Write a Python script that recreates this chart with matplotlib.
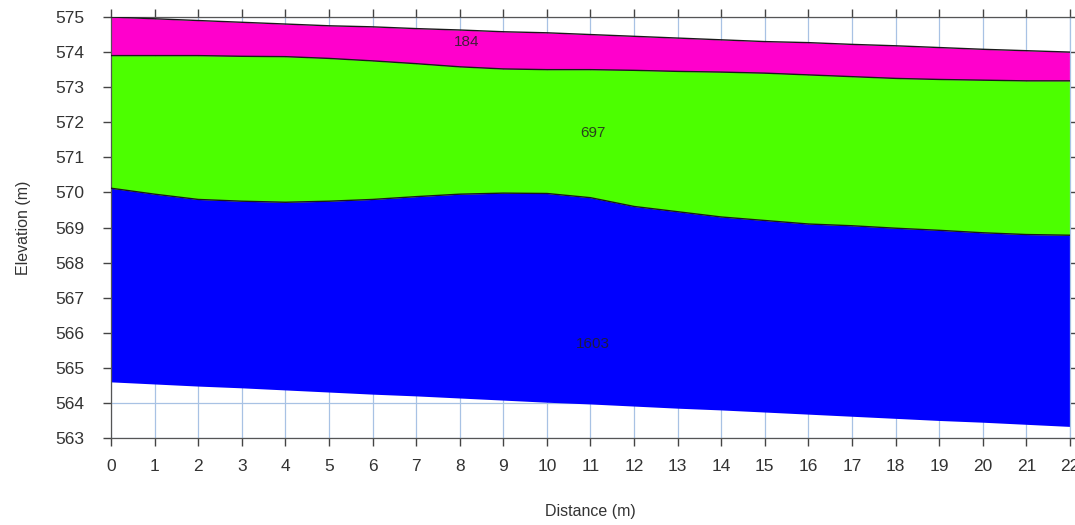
import matplotlib
matplotlib.use("Agg")
import matplotlib.pyplot as plt

plt.rcParams['font.family'] = ['Liberation Sans', 'DejaVu Sans']

# layer boundaries (distance in m, elevation in m)
dist = [0, 1, 2, 3, 4, 5, 6, 7, 8, 9, 10, 11, 12, 13, 14, 15, 16, 17, 18, 19, 20, 21, 22]
surface = [575.0, 574.95, 574.9, 574.85, 574.8, 574.75, 574.72, 574.67, 574.63, 574.58, 574.55,
           574.5, 574.45, 574.4, 574.35, 574.3, 574.27, 574.22, 574.18, 574.13, 574.08, 574.04, 574.0]
top_697 = [573.9, 573.9, 573.9, 573.88, 573.87, 573.82, 573.75, 573.67, 573.58, 573.52, 573.5,
           573.5, 573.48, 573.45, 573.43, 573.4, 573.35, 573.3, 573.25, 573.22, 573.2, 573.18, 573.18]
top_1603 = [570.12, 569.95, 569.8, 569.75, 569.72, 569.75, 569.8, 569.88, 569.95, 569.98, 569.97,
            569.85, 569.6, 569.45, 569.3, 569.2, 569.1, 569.05, 568.98, 568.92, 568.85, 568.8, 568.78]
bottom = [564.6, 564.54, 564.48, 564.43, 564.37, 564.31, 564.25, 564.2, 564.14, 564.08, 564.02,
          563.97, 563.91, 563.85, 563.8, 563.74, 563.68, 563.62, 563.56, 563.5, 563.45, 563.39, 563.33]

layer_names = ["184", "697", "1603"]
label_pos = [(8.15, 574.3), (11.05, 571.7), (11.05, 565.68)]
colors = ["#ff00cc", "#4cff00", "#0000ff"]

fig = plt.figure(figsize=(10.75, 5.25), dpi=100)
ax = fig.add_axes([0.1033, 0.1657, 0.892, 0.8019])

bounds = [surface, top_697, top_1603, bottom]
for i in range(3):
    ax.fill_between(dist, bounds[i + 1], bounds[i], color=colors[i], lw=0, zorder=2)
for b in bounds[:3]:
    ax.plot(dist, b, color="#1a1a1a", lw=1, zorder=3)

for name, (x, y) in zip(layer_names, label_pos):
    ax.text(x, y, name, ha="center", va="center", fontsize=11, color="#222222",
            alpha=0.85, zorder=4)

ax.set_xlim(0, 22)
ax.set_ylim(563, 575)
ax.set_xticks(range(0, 23))
ax.set_yticks(range(563, 576))
ax.grid(True, color="#a8c2e4", lw=0.9, zorder=0)
ax.set_axisbelow(True)
ax.tick_params(axis="both", direction="out", length=6, width=1, color="#444444",
               labelsize=12.5, labelcolor="#333333", top=True, right=True)
ax.tick_params(axis="x", pad=9)
ax.tick_params(axis="y", pad=13)
for s in ax.spines.values():
    s.set_color("#555555")
    s.set_linewidth(0.9)
ax.spines["right"].set_color("#a8c2e4")

ax.set_xlabel("Distance (m)", fontsize=11.5, color="#333333", labelpad=22)
ax.set_ylabel("Elevation (m)", fontsize=11.5, color="#333333", labelpad=18)

fig.savefig("out.png", dpi=100)
